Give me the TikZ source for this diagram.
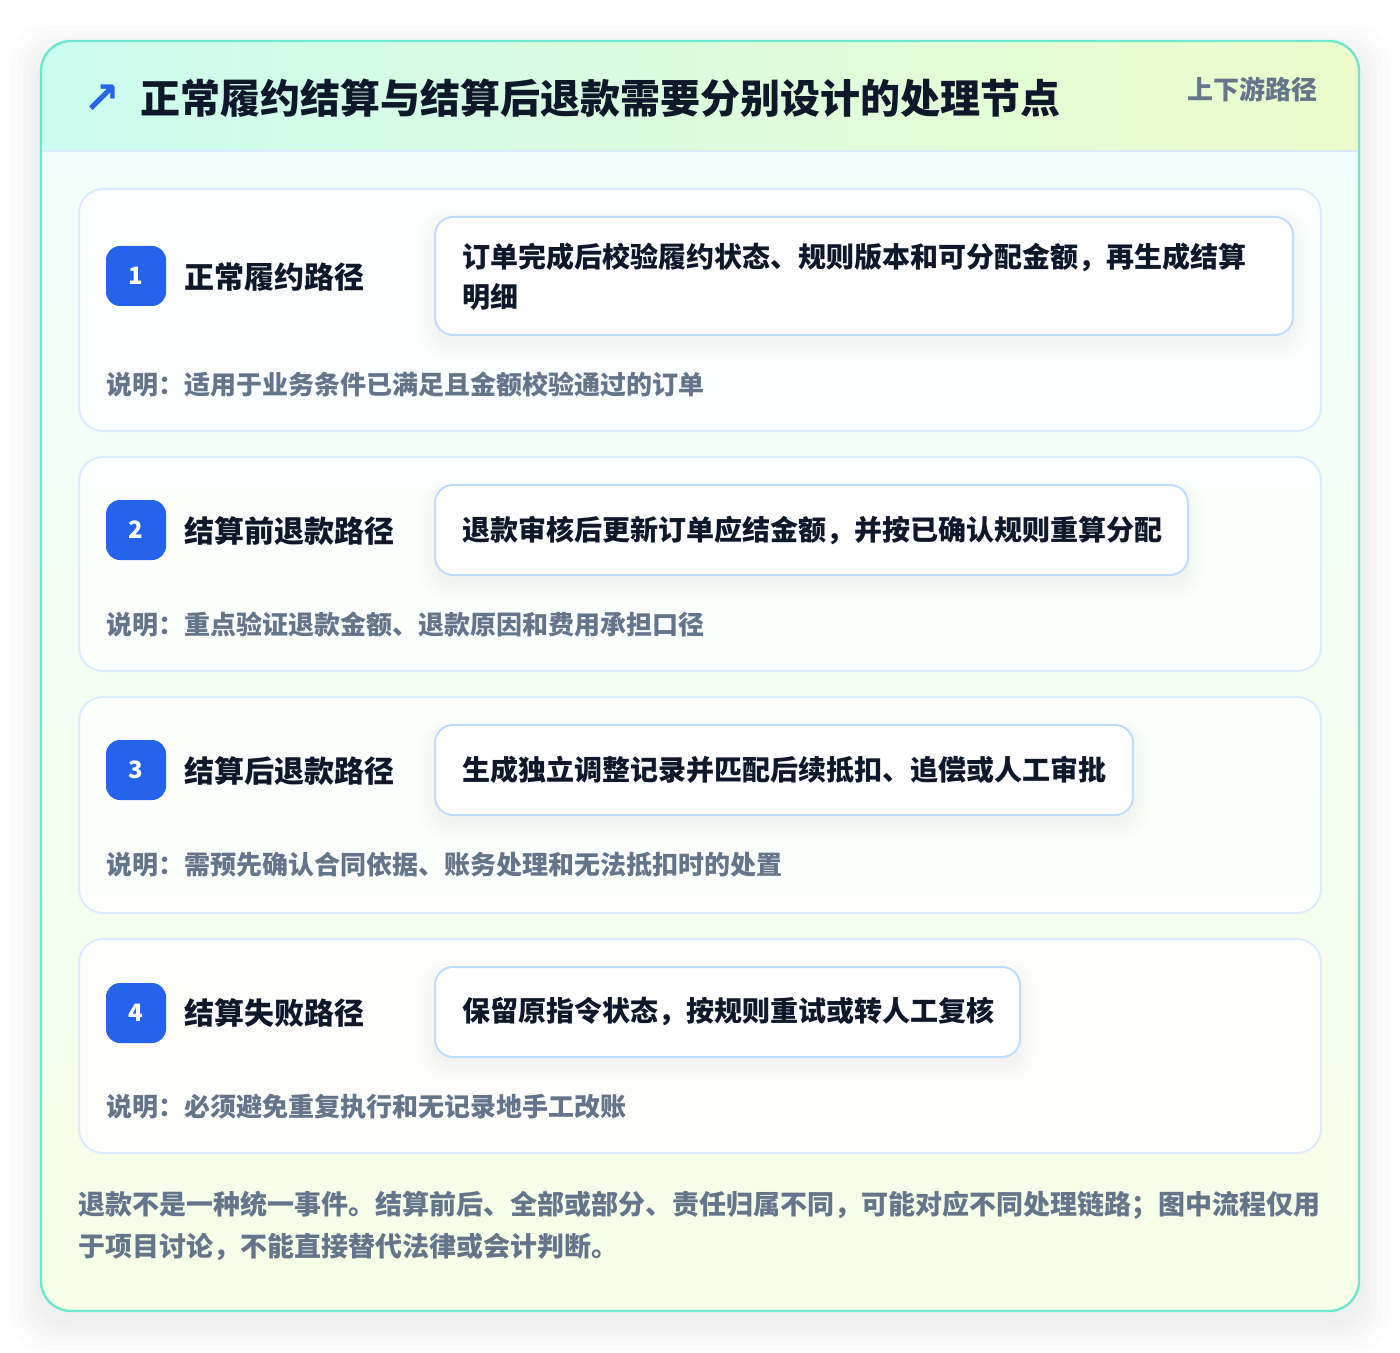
\documentclass[tikz,border=0pt]{standalone}
\usepackage{fontspec}
\setmainfont{Noto Sans CJK SC}
\newfontfamily\symfont{DejaVu Sans}
\usetikzlibrary{positioning}
\definecolor{outerline}{HTML}{6EE7D0}
\definecolor{headleft}{HTML}{CCFBEF}
\definecolor{headright}{HTML}{ECFCCB}
\definecolor{bodytop}{HTML}{F0FDFA}
\definecolor{bodybottom}{HTML}{F7FEE7}
\definecolor{cardline}{HTML}{DBEAFE}
\definecolor{boxline}{HTML}{BFDBFE}
\definecolor{badgeblue}{HTML}{2563EB}
\definecolor{titlecol}{HTML}{0F172A}
\definecolor{notecol}{HTML}{64748B}
\tikzset{
  card/.style={draw=cardline,line width=1pt,fill=white,fill opacity=0.8,rounded corners=12pt},
  stepbox/.style={draw=boxline,line width=1pt,fill=white,rounded corners=9pt},
  boxshadow/.style={fill=black,opacity=0.008,rounded corners=12pt},
  badge/.style={fill=badgeblue,text=white,rounded corners=7pt,minimum size=30pt,inner sep=0pt,font=\bfseries\fontsize{12}{14}\selectfont},
  pathname/.style={anchor=west,inner sep=0pt,text=titlecol,font=\bfseries\fontsize{15}{18}\selectfont},
  steptext/.style={anchor=west,inner sep=0pt,text=titlecol,font=\bfseries\fontsize{14}{17}\selectfont},
  notetext/.style={anchor=west,inner sep=0pt,text=notecol,font=\bfseries\fontsize{13}{16}\selectfont},
  foottext/.style={anchor=west,inner sep=0pt,text=notecol,font=\bfseries\fontsize{13.5}{17}\selectfont}
}
\begin{document}
\begin{tikzpicture}[x=0.5pt,y=-0.5pt]
\useasboundingbox (0,0) rectangle (1400,1352);
\fill[white] (0,0) rectangle (1400,1352);
\foreach \g in {6,12,18,24,30}
  \fill[black,opacity=0.012,rounded corners=18pt] (41-\g,41-\g+14) rectangle (1359+\g,1311+\g+10);
\begin{scope}
\clip[rounded corners=15pt] (41,41) rectangle (1359,1311);
\shade[left color=headleft,right color=headright] (41,41) rectangle (1359,151);
\shade[top color=bodytop,bottom color=bodybottom] (41,151) rectangle (1359,1311);
\end{scope}
\draw[cardline,line width=1pt] (41,151)--(1359,151);
\draw[outerline,line width=1.2pt,rounded corners=15pt] (41,41) rectangle (1359,1311);
\node[text=badgeblue,font=\symfont\bfseries\fontsize{22}{22}\selectfont] (icon) at (102,99) {↗};
\node[anchor=west,inner sep=0pt,text=titlecol,font=\bfseries\fontsize{20}{24}\selectfont] (title) at (140,98) {正常履约结算与结算后退款需要分别设计的处理节点};
\node[anchor=east,inner sep=0pt,text=notecol,font=\bfseries\fontsize{13}{16}\selectfont] (tag) at (1318,89) {上下游路径};
\draw[card] (79,189) rectangle (1321,431);
\draw[card] (79,457) rectangle (1321,671);
\draw[card] (79,697) rectangle (1321,913);
\draw[card] (79,939) rectangle (1321,1153);
\foreach \g in {2,5,8,11,14} {
  \fill[boxshadow] (435-\g,217-\g+8) rectangle (1293+\g,335+\g+8);
  \fill[boxshadow] (435-\g,485-\g+8) rectangle (1188+\g,575+\g+8);
  \fill[boxshadow] (435-\g,725-\g+8) rectangle (1133+\g,815+\g+8);
  \fill[boxshadow] (435-\g,967-\g+8) rectangle (1020+\g,1057+\g+8);
}
\draw[stepbox] (435,217) rectangle (1293,335);
\draw[stepbox] (435,485) rectangle (1188,575);
\draw[stepbox] (435,725) rectangle (1133,815);
\draw[stepbox] (435,967) rectangle (1020,1057);
\node[badge] (b1) at (136,276) {1};
\node[badge] (b2) at (136,530) {2};
\node[badge] (b3) at (136,770) {3};
\node[badge] (b4) at (136,1013) {4};
\node[pathname] (p1) at (184,277) {正常履约路径};
\node[pathname] (p2) at (184,531) {结算前退款路径};
\node[pathname] (p3) at (184,771) {结算后退款路径};
\node[pathname] (p4) at (184,1013) {结算失败路径};
\node[steptext] (s1a) at (462,257) {订单完成后校验履约状态、规则版本和可分配金额，再生成结算};
\node[steptext] (s1b) at (462,297) {明细};
\node[steptext] (s2) at (462,530) {退款审核后更新订单应结金额，并按已确认规则重算分配};
\node[steptext] (s3) at (462,770) {生成独立调整记录并匹配后续抵扣、追偿或人工审批};
\node[steptext] (s4) at (462,1011) {保留原指令状态，按规则重试或转人工复核};
\node[notetext] (n1) at (106,385) {说明：适用于业务条件已满足且金额校验通过的订单};
\node[notetext] (n2) at (106,625) {说明：重点验证退款金额、退款原因和费用承担口径};
\node[notetext] (n3) at (106,865) {说明：需预先确认合同依据、账务处理和无法抵扣时的处置};
\node[notetext] (n4) at (106,1107) {说明：必须避免重复执行和无记录地手工改账};
\node[foottext] (f1) at (78,1205) {退款不是一种统一事件。结算前后、全部或部分、责任归属不同，可能对应不同处理链路；图中流程仅用};
\node[foottext] (f2) at (78,1247) {于项目讨论，不能直接替代法律或会计判断。};
\end{tikzpicture}
\end{document}
